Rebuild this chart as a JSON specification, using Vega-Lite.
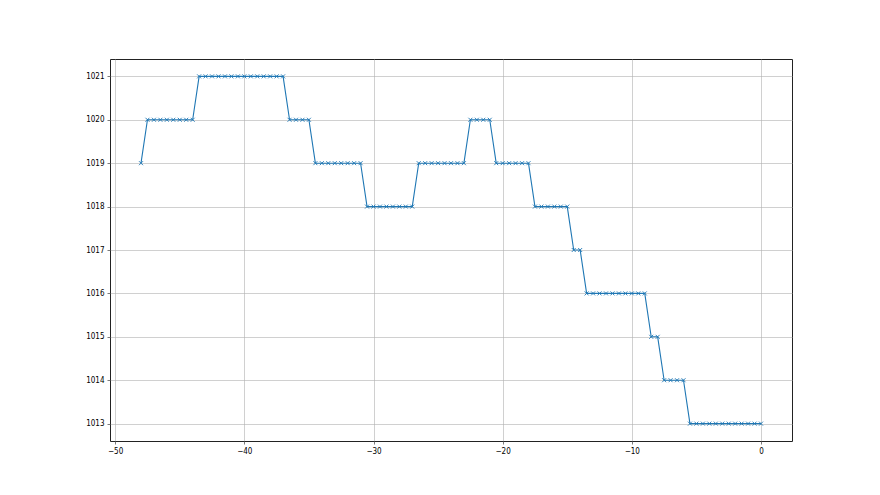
{
  "$schema": "https://vega.github.io/schema/vega-lite/v6.json",
  "width": 682,
  "height": 382,
  "autosize": {"type": "none"},
  "padding": {"left": 110, "top": 59, "right": 88, "bottom": 54},
  "background": "white",
  "config": {
    "view": {"stroke": "#222222", "strokeWidth": 1},
    "axis": {
      "labelFont": "DejaVu Sans Condensed, Liberation Sans Narrow, DejaVu Sans",
      "labelFontSize": 8,
      "labelColor": "black",
      "domain": false,
      "tickColor": "#222222",
      "tickSize": 3,
      "tickWidth": 0.6,
      "gridColor": "#b0b0b0",
      "gridWidth": 0.6,
      "gridOpacity": 1,
      "labelPadding": 3,
      "title": null
    }
  },
  "data": {"values": [
    {"x": -48, "y": 1019},
    {"x": -47.5, "y": 1020}, {"x": -47, "y": 1020}, {"x": -46.5, "y": 1020}, {"x": -46, "y": 1020},
    {"x": -45.5, "y": 1020}, {"x": -45, "y": 1020}, {"x": -44.5, "y": 1020}, {"x": -44, "y": 1020},
    {"x": -43.5, "y": 1021}, {"x": -43, "y": 1021}, {"x": -42.5, "y": 1021}, {"x": -42, "y": 1021},
    {"x": -41.5, "y": 1021}, {"x": -41, "y": 1021}, {"x": -40.5, "y": 1021}, {"x": -40, "y": 1021},
    {"x": -39.5, "y": 1021}, {"x": -39, "y": 1021}, {"x": -38.5, "y": 1021}, {"x": -38, "y": 1021},
    {"x": -37.5, "y": 1021}, {"x": -37, "y": 1021},
    {"x": -36.5, "y": 1020}, {"x": -36, "y": 1020}, {"x": -35.5, "y": 1020}, {"x": -35, "y": 1020},
    {"x": -34.5, "y": 1019}, {"x": -34, "y": 1019}, {"x": -33.5, "y": 1019}, {"x": -33, "y": 1019},
    {"x": -32.5, "y": 1019}, {"x": -32, "y": 1019}, {"x": -31.5, "y": 1019}, {"x": -31, "y": 1019},
    {"x": -30.5, "y": 1018}, {"x": -30, "y": 1018}, {"x": -29.5, "y": 1018}, {"x": -29, "y": 1018},
    {"x": -28.5, "y": 1018}, {"x": -28, "y": 1018}, {"x": -27.5, "y": 1018}, {"x": -27, "y": 1018},
    {"x": -26.5, "y": 1019}, {"x": -26, "y": 1019}, {"x": -25.5, "y": 1019}, {"x": -25, "y": 1019},
    {"x": -24.5, "y": 1019}, {"x": -24, "y": 1019}, {"x": -23.5, "y": 1019}, {"x": -23, "y": 1019},
    {"x": -22.5, "y": 1020}, {"x": -22, "y": 1020}, {"x": -21.5, "y": 1020}, {"x": -21, "y": 1020},
    {"x": -20.5, "y": 1019}, {"x": -20, "y": 1019}, {"x": -19.5, "y": 1019}, {"x": -19, "y": 1019},
    {"x": -18.5, "y": 1019}, {"x": -18, "y": 1019},
    {"x": -17.5, "y": 1018}, {"x": -17, "y": 1018}, {"x": -16.5, "y": 1018}, {"x": -16, "y": 1018},
    {"x": -15.5, "y": 1018}, {"x": -15, "y": 1018},
    {"x": -14.5, "y": 1017}, {"x": -14, "y": 1017},
    {"x": -13.5, "y": 1016}, {"x": -13, "y": 1016}, {"x": -12.5, "y": 1016}, {"x": -12, "y": 1016},
    {"x": -11.5, "y": 1016}, {"x": -11, "y": 1016}, {"x": -10.5, "y": 1016}, {"x": -10, "y": 1016},
    {"x": -9.5, "y": 1016}, {"x": -9, "y": 1016},
    {"x": -8.5, "y": 1015}, {"x": -8, "y": 1015},
    {"x": -7.5, "y": 1014}, {"x": -7, "y": 1014}, {"x": -6.5, "y": 1014}, {"x": -6, "y": 1014},
    {"x": -5.5, "y": 1013}, {"x": -5, "y": 1013}, {"x": -4.5, "y": 1013}, {"x": -4, "y": 1013},
    {"x": -3.5, "y": 1013}, {"x": -3, "y": 1013}, {"x": -2.5, "y": 1013}, {"x": -2, "y": 1013},
    {"x": -1.5, "y": 1013}, {"x": -1, "y": 1013}, {"x": -0.5, "y": 1013}, {"x": 0, "y": 1013}
  ]},
  "encoding": {
    "x": {
      "field": "x", "type": "quantitative",
      "scale": {"domain": [-50.4, 2.4], "nice": false, "zero": false},
      "axis": {"values": [-50, -40, -30, -20, -10, 0], "grid": true, "format": "d", "labelExpr": "replace(datum.label, '-', '\u2212')"}
    },
    "y": {
      "field": "y", "type": "quantitative",
      "scale": {"domain": [1012.6, 1021.4], "nice": false, "zero": false},
      "axis": {"values": [1013, 1014, 1015, 1016, 1017, 1018, 1019, 1020, 1021], "grid": true, "format": "d"}
    }
  },
  "layer": [
    {"mark": {"type": "line", "color": "#1f77b4", "strokeWidth": 1.1}},
    {"mark": {"type": "point", "shape": "M-1,-1L1,1M-1,1L1,-1", "size": 16, "filled": false, "stroke": "#1f77b4", "strokeWidth": 0.9, "opacity": 1}}
  ]
}
